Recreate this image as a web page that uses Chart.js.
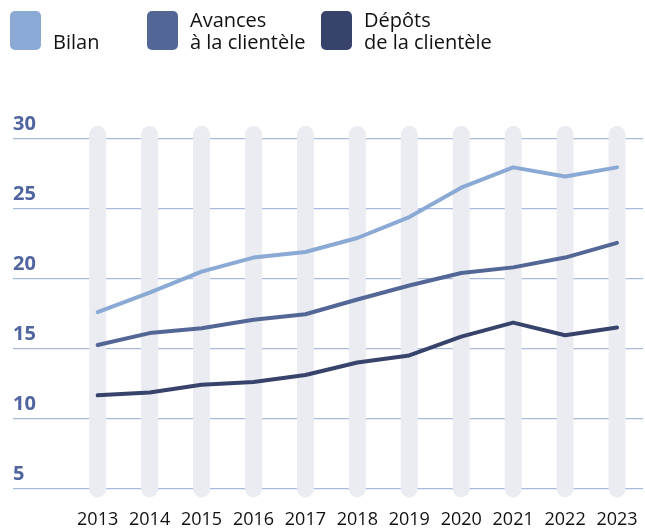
<!DOCTYPE html>
<html>
<head>
<meta charset="utf-8">
<script src="https://cdn.jsdelivr.net/npm/chart.js@4"></script>
<style>
  html, body { margin: 0; padding: 0; background: #fff; }
  #wrap { position: relative; width: 645px; height: 528px; font-family: "Open Sans", sans-serif; }
  #chart { position: absolute; left: 0; top: 0; }
  .key { position: absolute; top: 11px; height: 39px; }
  .key .sw { position: absolute; left: 0; top: 0; width: 31px; height: 39px; border-radius: 5px; }
  .key .tx { position: absolute; left: 43px; bottom: -3px; font-size: 20px; line-height: 22px; color: #111; white-space: nowrap; }
</style>
</head>
<body>
<div id="wrap">
  <canvas id="chart" width="645" height="528"></canvas>
  <div class="key" style="left:10px"><div class="sw" style="background:#8aa9d4"></div><div class="tx">Bilan</div></div>
  <div class="key" style="left:147px"><div class="sw" style="background:#536797"></div><div class="tx">Avances<br>à la clientèle</div></div>
  <div class="key" style="left:321px"><div class="sw" style="background:#38436c"></div><div class="tx">Dépôts<br>de la clientèle</div></div>
</div>
<script>
const years = [2013, 2014, 2015, 2016, 2017, 2018, 2019, 2020, 2021, 2022, 2023];
const bilan = [17.6, 19.0, 20.5, 21.5, 21.9, 22.9, 24.4, 26.5, 27.95, 27.3, 27.95];
const avances = [15.25, 16.1, 16.45, 17.05, 17.45, 18.5, 19.5, 20.4, 20.8, 21.5, 22.55];
const depots = [11.65, 11.85, 12.4, 12.6, 13.1, 14.0, 14.5, 15.85, 16.85, 15.95, 16.5];
const yTicks = [5, 10, 15, 20, 25, 30];

const pills = {
  id: 'pills',
  beforeDatasetsDraw(chart) {
    const { ctx, chartArea, scales } = chart;
    ctx.save();
    ctx.fillStyle = '#ebecf2';
    years.forEach(y => {
      const x = scales.x.getPixelForValue(y);
      ctx.beginPath();
      ctx.roundRect(x - 8.5, chartArea.top, 17, chartArea.bottom - chartArea.top, 8.5);
      ctx.fill();
    });
    ctx.restore();
  }
};

function line(label, data, color) {
  return {
    label, data: years.map((y, i) => ({ x: y, y: data[i] })),
    borderColor: color, borderWidth: 4, pointRadius: 0, tension: 0,
    borderCapStyle: 'round', borderJoinStyle: 'round'
  };
}

new Chart(document.getElementById('chart'), {
  type: 'line',
  data: {
    datasets: [
      line('Bilan', bilan, '#8aa9d4'),
      line('Avances à la clientèle', avances, '#536797'),
      line('Dépôts de la clientèle', depots, '#38436c')
    ]
  },
  plugins: [pills],
  options: {
    responsive: false,
    animation: false,
    layout: { padding: { left: 13, right: 2, top: 126, bottom: -7 } },
    plugins: { legend: { display: false }, tooltip: { enabled: false } },
    scales: {
      x: {
        type: 'linear', min: 2011.37, max: 2023.5,
        afterBuildTicks: s => { s.ticks = years.map(v => ({ value: v })); },
        grid: { display: false }, border: { display: false },
        ticks: { color: '#111', font: { family: 'Open Sans', size: 18 }, padding: 4, callback: v => String(v), maxRotation: 0, autoSkip: false }
      },
      y: {
        min: 4.35, max: 30.91,
        afterBuildTicks: s => { s.ticks = yTicks.map(v => ({ value: v })); },
        grid: { color: '#a7bbe0', lineWidth: 1.2, drawTicks: false }, border: { display: false },
        ticks: { mirror: true, padding: 0, labelOffset: -14, color: '#5064a0', font: { family: 'Open Sans', size: 20, weight: 'bold' } }
      }
    }
  }
});
</script>
</body>
</html>
